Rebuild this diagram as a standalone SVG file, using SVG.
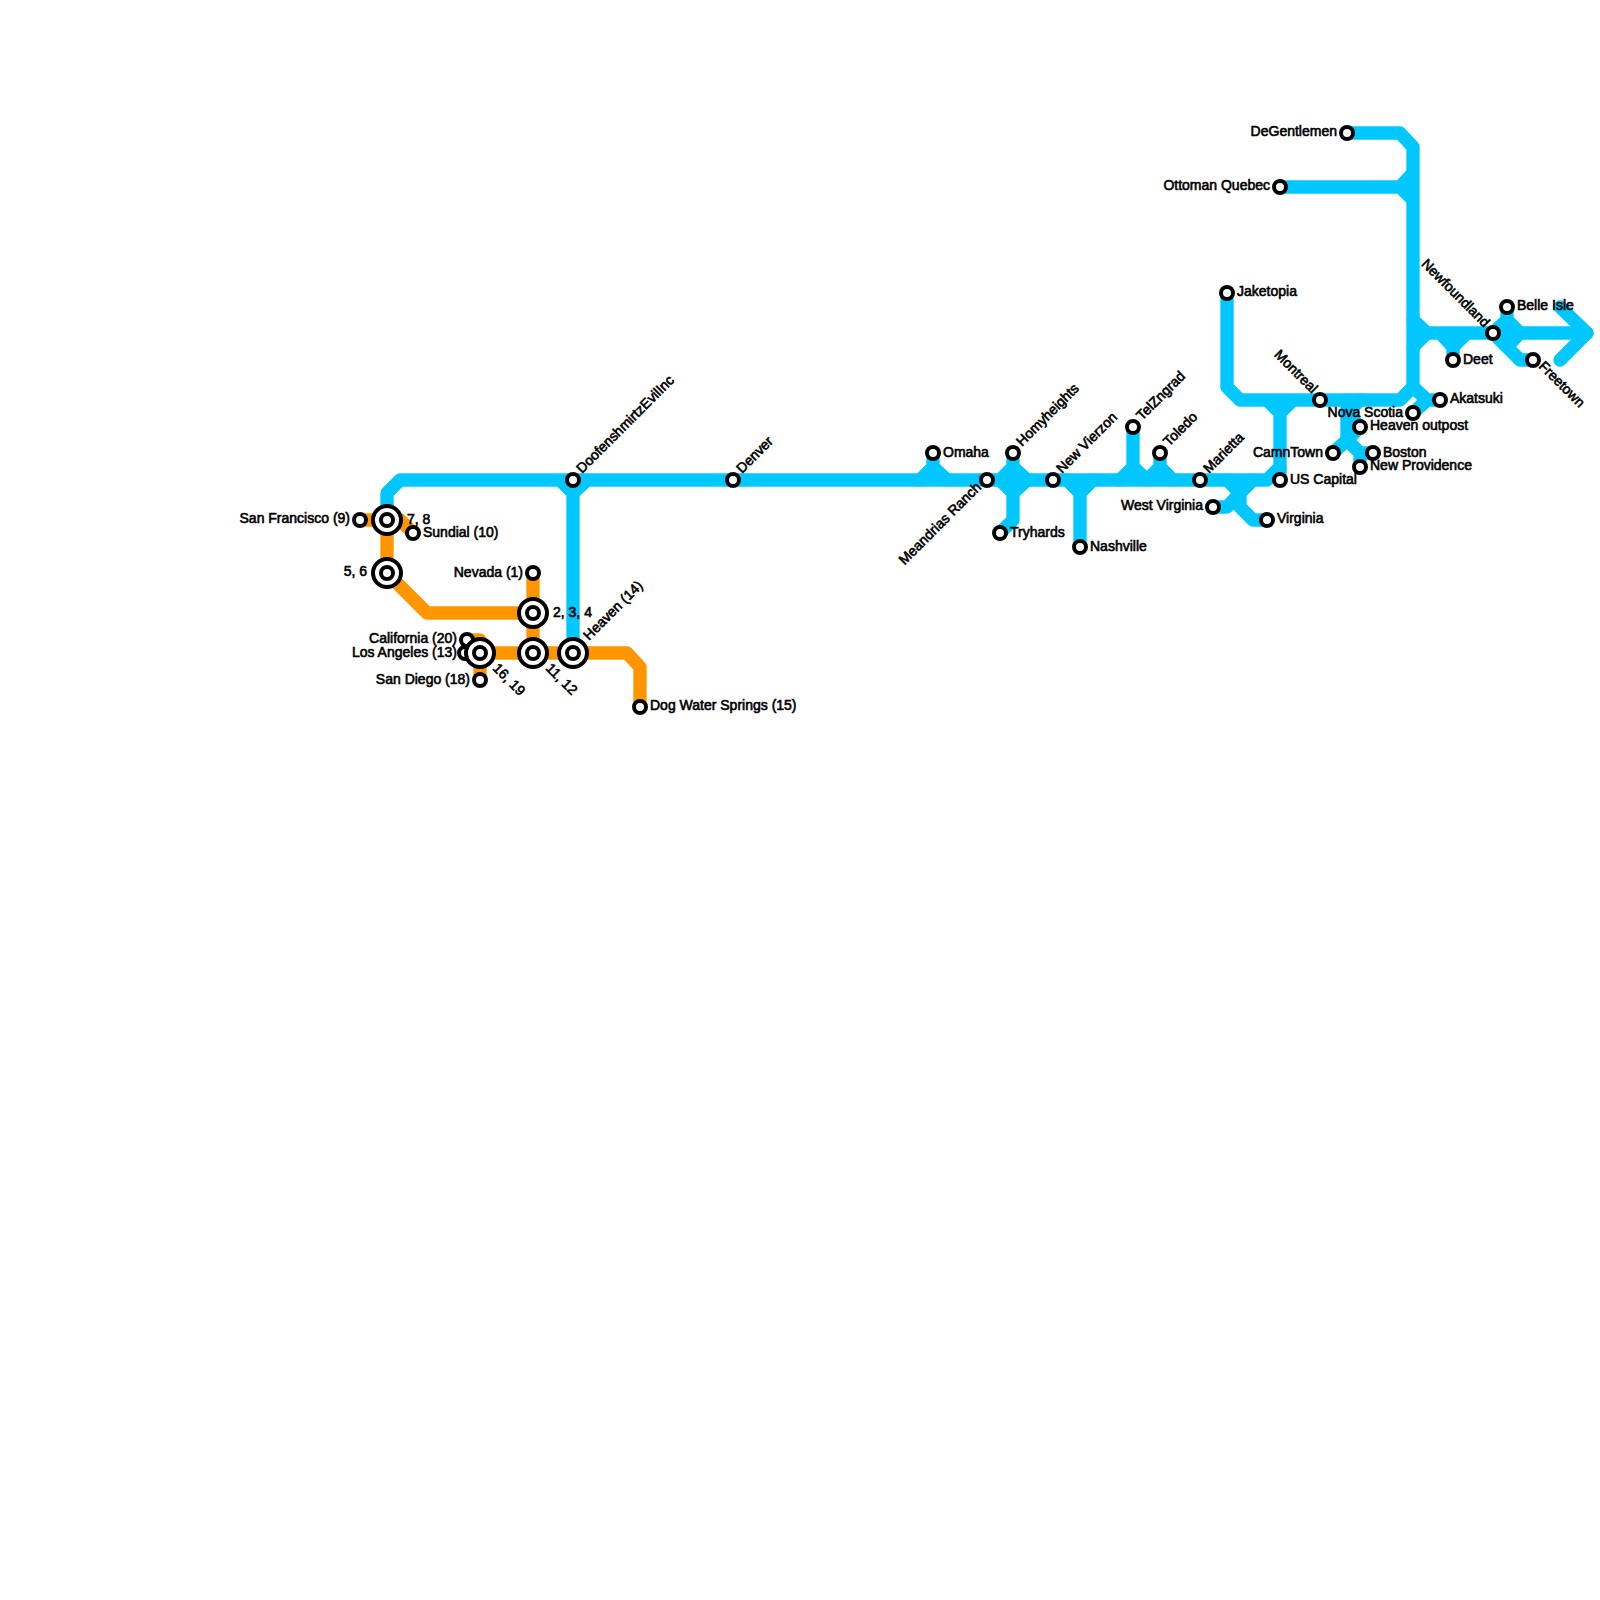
<svg xmlns="http://www.w3.org/2000/svg" width="1600" height="1600" viewBox="0 0 1600 1600">
<style>
.b,.o{fill:none;stroke-width:13.33;stroke-linejoin:round;stroke-linecap:round}
.b{stroke:#00c8ff}.o{stroke:#ff9600}
.s{fill:#fff;stroke:#000;stroke-width:4}
.t{font-family:"Liberation Sans",Arial,sans-serif;font-size:14px;font-weight:400;fill:#000;stroke:#000;stroke-width:.6}
.e{text-anchor:end}
</style>
<rect width="1600" height="1600" fill="#fff"/>
<g id="connectors">
<path class="o" d="M533 573V653M387 520V573L427 613H533M360 520H387L400 520L413 533M480 653H627L640 667V707M467 640H480V680M467 653H480"/>
<path class="b" d="M387 520V493L400 480H1267L1280 467M560 480L573 493L587 480M573 493V653"/>
<path class="b" d="M933 453V467L920 480M933 467L947 480"/>
<path class="b" d="M1013 453V467L1000 480M1013 467L1027 480M1000 480L1013 493L1027 480M1013 493V520L1000 533"/>
<path class="b" d="M1067 480L1080 493L1093 480M1080 493V547"/>
<path class="b" d="M1133 427V467L1120 480M1133 467L1147 480M1160 453V467L1147 480M1160 467L1173 480"/>
<path class="b" d="M1227 480L1240 493L1253 480M1213 507H1227L1240 493V507L1253 520H1267"/>
<path class="b" d="M1227 293V387L1240 400H1400L1413 387L1427 400H1440M1267 400L1280 413L1293 400M1280 413V480M1413 413L1427 400"/>
<path class="b" d="M1347 133H1400L1413 147V387M1280 187H1400L1413 173M1400 187L1413 200"/>
<path class="b" d="M1347 400V440L1333 453M1347 440L1360 453H1373M1360 453V467M1360 400L1347 413L1360 427L1347 440"/>
<path class="b" d="M1413 320L1427 333L1413 347M1427 333H1587M1440 333L1453 347L1467 333M1453 347V360"/>
<path class="b" d="M1507 307V320L1493 333M1507 320L1520 333L1507 347M1493 333L1520 360H1533M1560 307L1587 333L1560 360"/>
</g>
<g id="n-nevada"><circle class="s" cx="533" cy="573" r="6"/><text class="t e" x="523" y="577">Nevada (1)</text></g>
<g id="n-234"><circle class="s" cx="533" cy="613" r="14"/><circle class="s" cx="533" cy="613" r="6"/><text class="t" x="553" y="617">2, 3, 4</text></g>
<g id="n-56"><circle class="s" cx="387" cy="573" r="14"/><circle class="s" cx="387" cy="573" r="6"/><text class="t e" x="367" y="576">5, 6</text></g>
<g id="n-78"><circle class="s" cx="387" cy="520" r="14"/><circle class="s" cx="387" cy="520" r="6"/><text class="t" x="407" y="524">7, 8</text></g>
<g id="n-sf"><circle class="s" cx="360" cy="520" r="6"/><text class="t e" x="350" y="523">San Francisco (9)</text></g>
<g id="n-sundial"><circle class="s" cx="413" cy="533" r="6"/><text class="t" x="423" y="537">Sundial (10)</text></g>
<g id="n-california"><circle class="s" cx="467" cy="640" r="6"/><text class="t e" x="457" y="643">California (20)</text></g>
<g id="n-la"><circle class="s" cx="465" cy="653" r="6"/><text class="t e" x="457" y="657">Los Angeles (13)</text></g>
<g id="n-1619"><circle class="s" cx="480" cy="653" r="14"/><circle class="s" cx="480" cy="653" r="6"/><text class="t" transform="translate(492 669) rotate(45)">16, 19</text></g>
<g id="n-sandiego"><circle class="s" cx="480" cy="680" r="6"/><text class="t e" x="470" y="684">San Diego (18)</text></g>
<g id="n-1112"><circle class="s" cx="533" cy="653" r="14"/><circle class="s" cx="533" cy="653" r="6"/><text class="t" transform="translate(545 669) rotate(45)">11, 12</text></g>
<g id="n-heaven"><circle class="s" cx="573" cy="653" r="14"/><circle class="s" cx="573" cy="653" r="6"/><text class="t" transform="translate(589 641) rotate(-45)">Heaven (14)</text></g>
<g id="n-dogwater"><circle class="s" cx="640" cy="707" r="6"/><text class="t" x="650" y="710">Dog Water Springs (15)</text></g>
<g id="n-doof"><circle class="s" cx="573" cy="480" r="6"/><text class="t" transform="translate(582 474) rotate(-45)">DoofenshmirtzEvilInc</text></g>
<g id="n-denver"><circle class="s" cx="733" cy="480" r="6"/><text class="t" transform="translate(742 474) rotate(-45)">Denver</text></g>
<g id="n-omaha"><circle class="s" cx="933" cy="453" r="6"/><text class="t" x="943" y="457">Omaha</text></g>
<g id="n-meandrias"><circle class="s" cx="987" cy="480" r="6"/><text class="t e" transform="translate(982 488) rotate(-45)">Meandrias Ranch</text></g>
<g id="n-homy"><circle class="s" cx="1013" cy="453" r="6"/><text class="t" transform="translate(1022 447) rotate(-45)">Homyheights</text></g>
<g id="n-vierzon"><circle class="s" cx="1053" cy="480" r="6"/><text class="t" transform="translate(1062 474) rotate(-45)">New Vierzon</text></g>
<g id="n-tryhards"><circle class="s" cx="1000" cy="533" r="6"/><text class="t" x="1010" y="537">Tryhards</text></g>
<g id="n-nashville"><circle class="s" cx="1080" cy="547" r="6"/><text class="t" x="1090" y="551">Nashville</text></g>
<g id="n-telz"><circle class="s" cx="1133" cy="427" r="6"/><text class="t" transform="translate(1142 421) rotate(-45)">TelZngrad</text></g>
<g id="n-toledo"><circle class="s" cx="1160" cy="453" r="6"/><text class="t" transform="translate(1169 447) rotate(-45)">Toledo</text></g>
<g id="n-marietta"><circle class="s" cx="1200" cy="480" r="6"/><text class="t" transform="translate(1209 474) rotate(-45)">Marietta</text></g>
<g id="n-wv"><circle class="s" cx="1213" cy="507" r="6"/><text class="t e" x="1203" y="510">West Virginia</text></g>
<g id="n-virginia"><circle class="s" cx="1267" cy="520" r="6"/><text class="t" x="1277" y="523">Virginia</text></g>
<g id="n-uscap"><circle class="s" cx="1280" cy="480" r="6"/><text class="t" x="1290" y="484">US Capital</text></g>
<g id="n-jake"><circle class="s" cx="1227" cy="293" r="6"/><text class="t" x="1237" y="296">Jaketopia</text></g>
<g id="n-montreal"><circle class="s" cx="1320" cy="400" r="6"/><text class="t e" transform="translate(1312 394) rotate(45)">Montreal</text></g>
<g id="n-nova"><circle class="s" cx="1413" cy="413" r="6"/><text class="t e" x="1403" y="417">Nova Scotia</text></g>
<g id="n-akatsuki"><circle class="s" cx="1440" cy="400" r="6"/><text class="t" x="1450" y="403">Akatsuki</text></g>
<g id="n-heavenout"><circle class="s" cx="1360" cy="427" r="6"/><text class="t" x="1370" y="430">Heaven outpost</text></g>
<g id="n-camn"><circle class="s" cx="1333" cy="453" r="6"/><text class="t e" x="1323" y="457">CamnTown</text></g>
<g id="n-boston"><circle class="s" cx="1373" cy="453" r="6"/><text class="t" x="1383" y="457">Boston</text></g>
<g id="n-newprov"><circle class="s" cx="1360" cy="467" r="6"/><text class="t" x="1370" y="470">New Providence</text></g>
<g id="n-degent"><circle class="s" cx="1347" cy="133" r="6"/><text class="t e" x="1337" y="136">DeGentlemen</text></g>
<g id="n-ottoman"><circle class="s" cx="1280" cy="187" r="6"/><text class="t e" x="1270" y="190">Ottoman Quebec</text></g>
<g id="n-deet"><circle class="s" cx="1453" cy="360" r="6"/><text class="t" x="1463" y="364">Deet</text></g>
<g id="n-newf"><circle class="s" cx="1493" cy="333" r="6"/><text class="t e" transform="translate(1484 328) rotate(45)">Newfoundland</text></g>
<g id="n-belle"><circle class="s" cx="1507" cy="307" r="6"/><text class="t" x="1517" y="310">Belle Isle</text></g>
<g id="n-freetown"><circle class="s" cx="1533" cy="360" r="6"/><text class="t" transform="translate(1538 367) rotate(45)">Freetown</text></g>
</svg>
